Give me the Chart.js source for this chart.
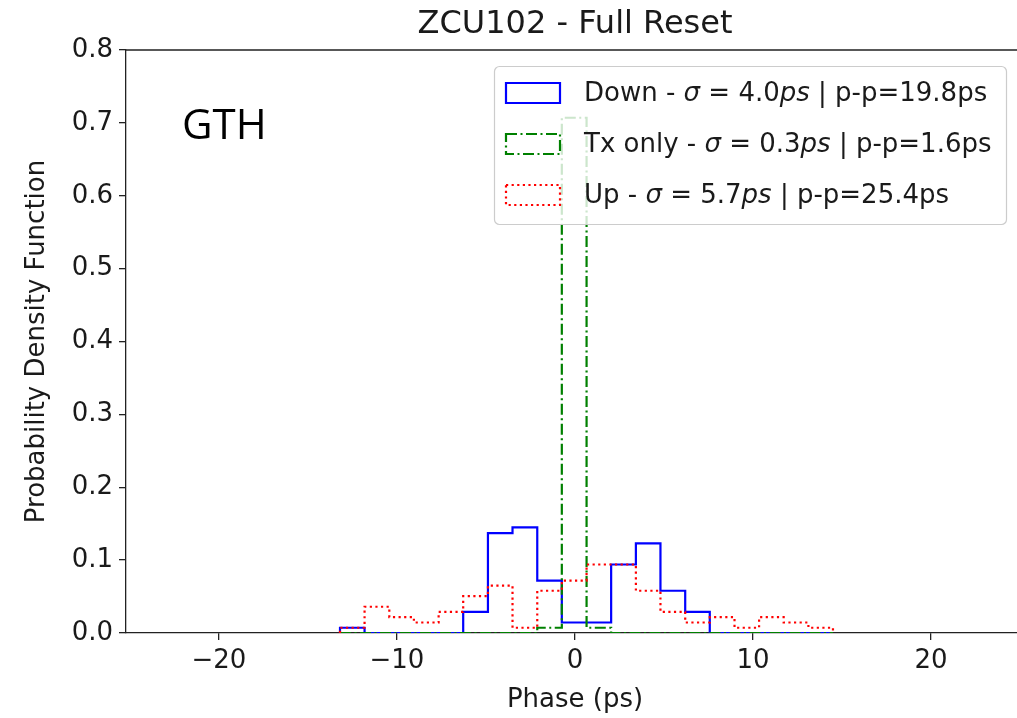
<!DOCTYPE html>
<html>
<head>
<meta charset="utf-8">
<title>ZCU102 - Full Reset</title>
<script src="https://cdn.jsdelivr.net/npm/chart.js@4.4.1/dist/chart.umd.min.js"></script>
<style>
  html, body { margin: 0; padding: 0; overflow: hidden; background: #fff; }
  #wrap { width: 1040px; height: 718px; }
</style>
</head>
<body>
<div id="wrap"><canvas id="pdfChart" width="1040" height="718"></canvas></div>
<script>
// Histogram bin edges (ps), shared by all three runs
const binEdges = [-13.20, -11.82, -10.43, -9.05, -7.66, -6.28, -4.89, -3.51, -2.12, -0.74,
                  0.65, 2.03, 3.42, 4.80, 6.19, 7.57, 8.96, 10.34, 11.72, 13.11, 14.49];

// Density per bin
const downPdf = [0.0072, 0, 0, 0, 0, 0.0289, 0.137, 0.145, 0.072, 0.0144,
                 0.0144, 0.094, 0.123, 0.058, 0.0289, 0, 0, 0, 0, 0];
const txOnlyPdf = [0, 0, 0, 0, 0, 0, 0, 0, 0.0072, 0.707,
                   0.0072, 0, 0, 0, 0, 0, 0, 0, 0, 0];
const upPdf = [0.0072, 0.036, 0.0217, 0.0144, 0.0289, 0.0505, 0.065, 0.0072, 0.058, 0.072,
               0.094, 0.094, 0.058, 0.0289, 0.0144, 0.0217, 0.0072, 0.0217, 0.0144, 0.0072];

const seriesNames = ['Down', 'Tx only', 'Up'];
const sigmaPs = ['4.0', '0.3', '5.7'];
const peakToPeakPs = ['19.8', '1.6', '25.4'];

const xTicks = [-20, -10, 0, 10, 20];
const yTicks = [0, 0.1, 0.2, 0.3, 0.4, 0.5, 0.6, 0.7, 0.8];

const FONT = 'DejaVu Sans';
const TEXT = '#1a1a1a';

const styles = [
    { color: '#0000ff', dash: [] },
    { color: '#008000', dash: [11, 3.5, 2, 3.5] },
    { color: '#ff0000', dash: [2.2, 3.4] }
];

// outline of a step histogram: up the first edge, across each bin, down the last edge
function stepOutline(edges, values) {
    const pts = [{ x: edges[0], y: 0 }];
    values.forEach((v, i) => {
        pts.push({ x: edges[i], y: v });
        pts.push({ x: edges[i + 1], y: v });
    });
    pts.push({ x: edges[edges.length - 1], y: 0 });
    return pts;
}

const series = [downPdf, txOnlyPdf, upPdf];

const datasets = series.map((vals, i) => ({
    label: seriesNames[i],
    data: stepOutline(binEdges, vals),
    showLine: true,
    borderColor: styles[i].color,
    borderDash: styles[i].dash,
    borderWidth: 2.2,
    borderCapStyle: 'butt',
    borderJoinStyle: 'miter',
    pointRadius: 0,
    tension: 0,
    fill: false,
    order: 3 - i
}));

// title, top spine, GTH tag and the boxed legend
const decorations = {
    id: 'decorations',
    afterDraw(chart) {
        const { ctx, chartArea } = chart;
        ctx.save();

        ctx.strokeStyle = '#222';
        ctx.lineWidth = 1.3;
        ctx.beginPath();
        ctx.moveTo(chartArea.left, chartArea.top);
        ctx.lineTo(chartArea.right, chartArea.top);
        ctx.lineTo(chartArea.right, chartArea.bottom);
        ctx.stroke();

        ctx.fillStyle = TEXT;
        ctx.font = `32px "${FONT}"`;
        ctx.textAlign = 'center';
        ctx.textBaseline = 'middle';
        ctx.fillText('ZCU102 - Full Reset', (chartArea.left + chartArea.right) / 2, 25);

        ctx.fillStyle = '#000';
        ctx.font = '42px "Open Sans"';
        ctx.textAlign = 'left';
        ctx.textBaseline = 'alphabetic';
        ctx.fillText('GTH', 182, 139);

        // legend frame
        ctx.beginPath();
        ctx.roundRect(494.5, 66.5, 512, 158, 5);
        ctx.fillStyle = 'rgba(255,255,255,0.8)';
        ctx.fill();
        ctx.strokeStyle = '#cccccc';
        ctx.lineWidth = 1.2;
        ctx.stroke();

        seriesNames.forEach((name, i) => {
            const yc = 93 + i * 51;
            ctx.beginPath();
            ctx.rect(506, yc - 10, 54, 20);
            ctx.strokeStyle = styles[i].color;
            ctx.setLineDash(styles[i].dash);
            ctx.lineWidth = 2.2;
            ctx.stroke();
            ctx.setLineDash([]);

            const parts = [
                [name + ' - ', false],
                ['σ', true],
                [' = ' + sigmaPs[i], false],
                ['ps', true],
                [' | p-p=' + peakToPeakPs[i] + 'ps', false]
            ];
            let x = 584;
            ctx.fillStyle = TEXT;
            ctx.textBaseline = 'middle';
            parts.forEach(([txt, italic]) => {
                ctx.font = `${italic ? 'italic ' : ''}26px "${FONT}"`;
                ctx.fillText(txt, x, yc + 1);
                x += ctx.measureText(txt).width;
            });
        });
        ctx.restore();
    }
};

new Chart(document.getElementById('pdfChart'), {
    type: 'scatter',
    data: { datasets },
    options: {
        responsive: false,
        animation: false,
        devicePixelRatio: 1,
        layout: { padding: { top: 50, right: 16, bottom: 0, left: 0 } },
        plugins: {
            legend: { display: false },
            tooltip: { enabled: false },
            title: { display: false }
        },
        scales: {
            x: {
                type: 'linear',
                min: -25.22,
                max: 25.22,
                z: 1,
                afterBuildTicks: (s) => { s.ticks = xTicks.map(v => ({ value: v })); },
                afterFit: (s) => { s.height = 85; },
                grid: { drawOnChartArea: false, drawTicks: true, tickLength: 7, color: '#222', lineWidth: 1.3 },
                border: { color: '#222', width: 1.3 },
                ticks: {
                    color: TEXT,
                    padding: 6,
                    font: { family: FONT, size: 26 },
                    maxRotation: 0,
                    callback: (v) => v < 0 ? '\u2212' + Math.abs(v) : String(v)
                },
                title: {
                    display: true,
                    text: 'Phase (ps)',
                    color: TEXT,
                    font: { family: FONT, size: 26 },
                    padding: { top: 0, bottom: 2 }
                }
            },
            y: {
                type: 'linear',
                min: 0,
                max: 0.8,
                z: 1,
                afterBuildTicks: (s) => { s.ticks = yTicks.map(v => ({ value: v })); },
                afterFit: (s) => { s.width = 126; },
                grid: { drawOnChartArea: false, drawTicks: true, tickLength: 7, color: '#222', lineWidth: 1.3 },
                border: { color: '#222', width: 1.3 },
                ticks: {
                    color: TEXT,
                    padding: 6,
                    font: { family: FONT, size: 26 },
                    callback: (v) => v.toFixed(1)
                },
                title: {
                    display: true,
                    text: 'Probability Density Function',
                    color: TEXT,
                    font: { family: FONT, size: 26 },
                    padding: { top: 22, bottom: 0 }
                }
            }
        }
    },
    plugins: [decorations]
});
</script>
</body>
</html>
